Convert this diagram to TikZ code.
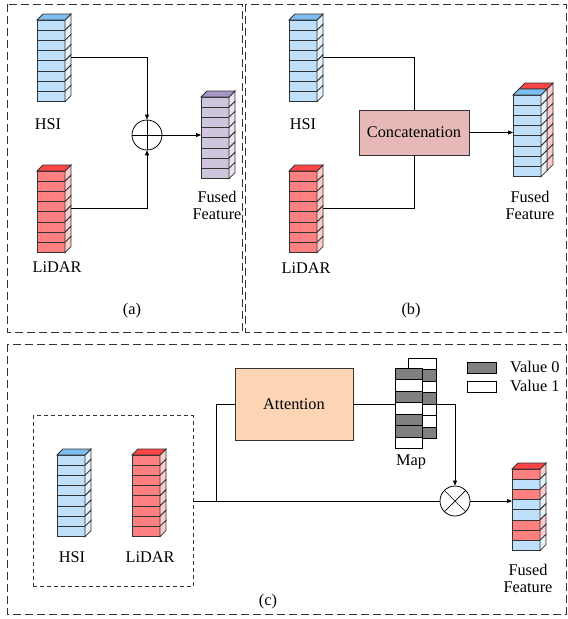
\documentclass[tikz,border=0pt]{standalone}
\usepackage{fontspec}
\setmainfont{Liberation Serif}
\usetikzlibrary{arrows.meta}
\definecolor{edge}{HTML}{333333}
\definecolor{hsiF}{HTML}{BFE0FB}
\definecolor{hsiT}{HTML}{7DBDF2}
\definecolor{hsiS}{HTML}{E3F2FD}
\definecolor{lidF}{HTML}{FF8080}
\definecolor{lidT}{HTML}{FF4545}
\definecolor{lidS}{HTML}{FFCACA}
\definecolor{fusF}{HTML}{CFC6DE}
\definecolor{fusT}{HTML}{A797C6}
\definecolor{fusS}{HTML}{E8E3EF}
\definecolor{concatF}{HTML}{E6B9B8}
\definecolor{attF}{HTML}{FCD5B5}
\definecolor{mapG}{HTML}{808080}
\newcommand{\drawcell}[4]{%
  \filldraw[fill=#3,draw=edge,line width=0.8pt] (#1,#2) rectangle ++(28,10.2);
  \filldraw[fill=#4,draw=edge,line width=0.8pt] (#1+28,#2) -- ++(6,-6) -- ++(0,10.2) -- ++(-6,6) -- cycle;
}
\newcommand{\drawstack}[4]{%
  \foreach \f/\s [count=\i from 0] in {#4} {\drawcell{#1}{#2+\i*10.2}{\f}{\s}}
  \filldraw[fill=#3,draw=edge,line width=0.8pt] (#1,#2) -- ++(6,-6) -- ++(28,0) -- ++(-6,6) -- cycle;
}
\newcommand{\mapcell}[4]{%
  \filldraw[fill=#4,draw=black,line width=0.7pt] (#1,#2) rectangle ++(#3,11.5);
}
\begin{document}
\begin{tikzpicture}[x=1pt,y=-1pt,
  every node/.style={font=\fontsize{16.3}{17}\selectfont},
  frame/.style={draw=edge,line width=0.9pt,dash pattern=on 8pt off 4pt},
  conn/.style={draw=black,line width=0.7pt},
  arr/.style={conn,-{Triangle[length=5pt,width=4pt]}},
  opnode/.style={circle,draw=black,line width=0.8pt,minimum size=30pt,inner sep=0pt},
  boxnode/.style={draw=edge,line width=0.9pt,inner sep=0pt},
  lbl/.style={align=center,inner sep=0pt}]
\useasboundingbox (0,0) rectangle (568,619);
% frames
\draw[frame] (7,4) rectangle (242,332);
\draw[frame] (245.5,4) rectangle (566,332);
\draw[frame] (7,344) rectangle (566,614);

% ---------- (a) ----------
\drawstack{37}{20}{hsiT}{hsiF/hsiS,hsiF/hsiS,hsiF/hsiS,hsiF/hsiS,hsiF/hsiS,hsiF/hsiS,hsiF/hsiS,hsiF/hsiS}
\drawstack{37}{171}{lidT}{lidF/lidS,lidF/lidS,lidF/lidS,lidF/lidS,lidF/lidS,lidF/lidS,lidF/lidS,lidF/lidS}
\drawstack{201}{97}{fusT}{fusF/fusS,fusF/fusS,fusF/fusS,fusF/fusS,fusF/fusS,fusF/fusS,fusF/fusS,fusF/fusS}
\node[lbl] (hsiAl) at (48,124) {HSI};
\node[lbl] (lidAl) at (57,267) {LiDAR};
\node[lbl] (fusAl) at (217,205) {Fused\\Feature};
\node[lbl] (capA) at (132,311) {(a)};
\node[opnode] (plus) at (147,135) {};
\draw[conn] (plus.north) -- (plus.south) (plus.west) -- (plus.east);
\coordinate (hsiAo) at (71,57);
\coordinate (lidAo) at (71,208);
\coordinate (fusAi) at (201,135);
\draw[arr] (hsiAo) -| (plus.north);
\draw[arr] (lidAo) -| (plus.south);
\draw[arr] (plus.east) -- (fusAi);

% ---------- (b) ----------
\drawstack{289}{20}{hsiT}{hsiF/hsiS,hsiF/hsiS,hsiF/hsiS,hsiF/hsiS,hsiF/hsiS,hsiF/hsiS,hsiF/hsiS,hsiF/hsiS}
\drawstack{289}{171}{lidT}{lidF/lidS,lidF/lidS,lidF/lidS,lidF/lidS,lidF/lidS,lidF/lidS,lidF/lidS,lidF/lidS}
\drawstack{519}{89}{lidT}{lidF/lidS,lidF/lidS,lidF/lidS,lidF/lidS,lidF/lidS,lidF/lidS,lidF/lidS,lidF/lidS}
\drawstack{513}{95}{hsiT}{hsiF/hsiS,hsiF/hsiS,hsiF/hsiS,hsiF/hsiS,hsiF/hsiS,hsiF/hsiS,hsiF/hsiS,hsiF/hsiS}
\node[lbl] (hsiBl) at (303,124) {HSI};
\node[lbl] (lidBl) at (306,268) {LiDAR};
\node[lbl] (fusBl) at (530,205) {Fused\\Feature};
\node[lbl] (capB) at (411,311) {(b)};
\node[boxnode,fill=concatF,minimum width=110pt,minimum height=45pt] (cat) at (414,132.5) {Concatenation};
\coordinate (hsiBo) at (323,57);
\coordinate (lidBo) at (323,208);
\coordinate (fusBi) at (513,132.5);
\draw[conn] (hsiBo) -| (cat.north);
\draw[conn] (lidBo) -| (cat.south);
\draw[arr] (cat.east) -- (fusBi);

% ---------- (c) ----------
\node[draw=edge,line width=0.9pt,dash pattern=on 4pt off 3pt,minimum width=160pt,minimum height=171pt,inner sep=0pt] (inner) at (113,501) {};
\drawstack{57}{455}{hsiT}{hsiF/hsiS,hsiF/hsiS,hsiF/hsiS,hsiF/hsiS,hsiF/hsiS,hsiF/hsiS,hsiF/hsiS,hsiF/hsiS}
\drawstack{132}{455}{lidT}{lidF/lidS,lidF/lidS,lidF/lidS,lidF/lidS,lidF/lidS,lidF/lidS,lidF/lidS,lidF/lidS}
\drawstack{512}{469}{lidT}{lidF/lidS,hsiF/hsiS,lidF/lidS,hsiF/hsiS,hsiF/hsiS,lidF/lidS,lidF/lidS,hsiF/hsiS}
\node[lbl] (hsiCl) at (72,557) {HSI};
\node[lbl] (lidCl) at (150,557) {LiDAR};
\node[lbl] (fusCl) at (528,578) {Fused\\Feature};
\node[lbl] (capC) at (268,602) {(c)};
\node[boxnode,fill=attF,minimum width=118pt,minimum height=72pt] (att) at (294,404) {Attention};
\node[opnode] (times) at (455,501) {};
\draw[conn] (times.north west) -- (times.south east) (times.north east) -- (times.south west);
\coordinate (br) at (216,501);
\coordinate (fusCi) at (512,501);
\draw[conn] (inner.east) -- (times.west);
\draw[conn] (br) |- (att.west);
\draw[arr] (att.east) -| (times.north);
\draw[arr] (times.east) -- (fusCi);
% map
\mapcell{408}{358}{28}{white}
\mapcell{408}{369.5}{28}{mapG}
\mapcell{408}{381}{28}{white}
\mapcell{408}{392.5}{28}{mapG}
\mapcell{408}{404}{28}{white}
\mapcell{408}{415.5}{28}{white}
\mapcell{408}{427}{28}{mapG}
\mapcell{395}{368}{27}{mapG}
\mapcell{395}{379.5}{27}{white}
\mapcell{395}{391}{27}{mapG}
\mapcell{395}{402.5}{27}{white}
\mapcell{395}{414}{27}{mapG}
\mapcell{395}{425.5}{27}{mapG}
\mapcell{395}{437}{27}{white}
\node[lbl] (mapl) at (411,462) {Map};
% legend
\filldraw[fill=mapG,draw=black,line width=0.7pt] (467,362) rectangle (496,373);
\filldraw[fill=white,draw=black,line width=0.7pt] (467,381) rectangle (496,392);
\node[lbl,anchor=west] (v0) at (510,367) {Value 0};
\node[lbl,anchor=west] (v1) at (510,386) {Value 1};
\end{tikzpicture}
\end{document}
